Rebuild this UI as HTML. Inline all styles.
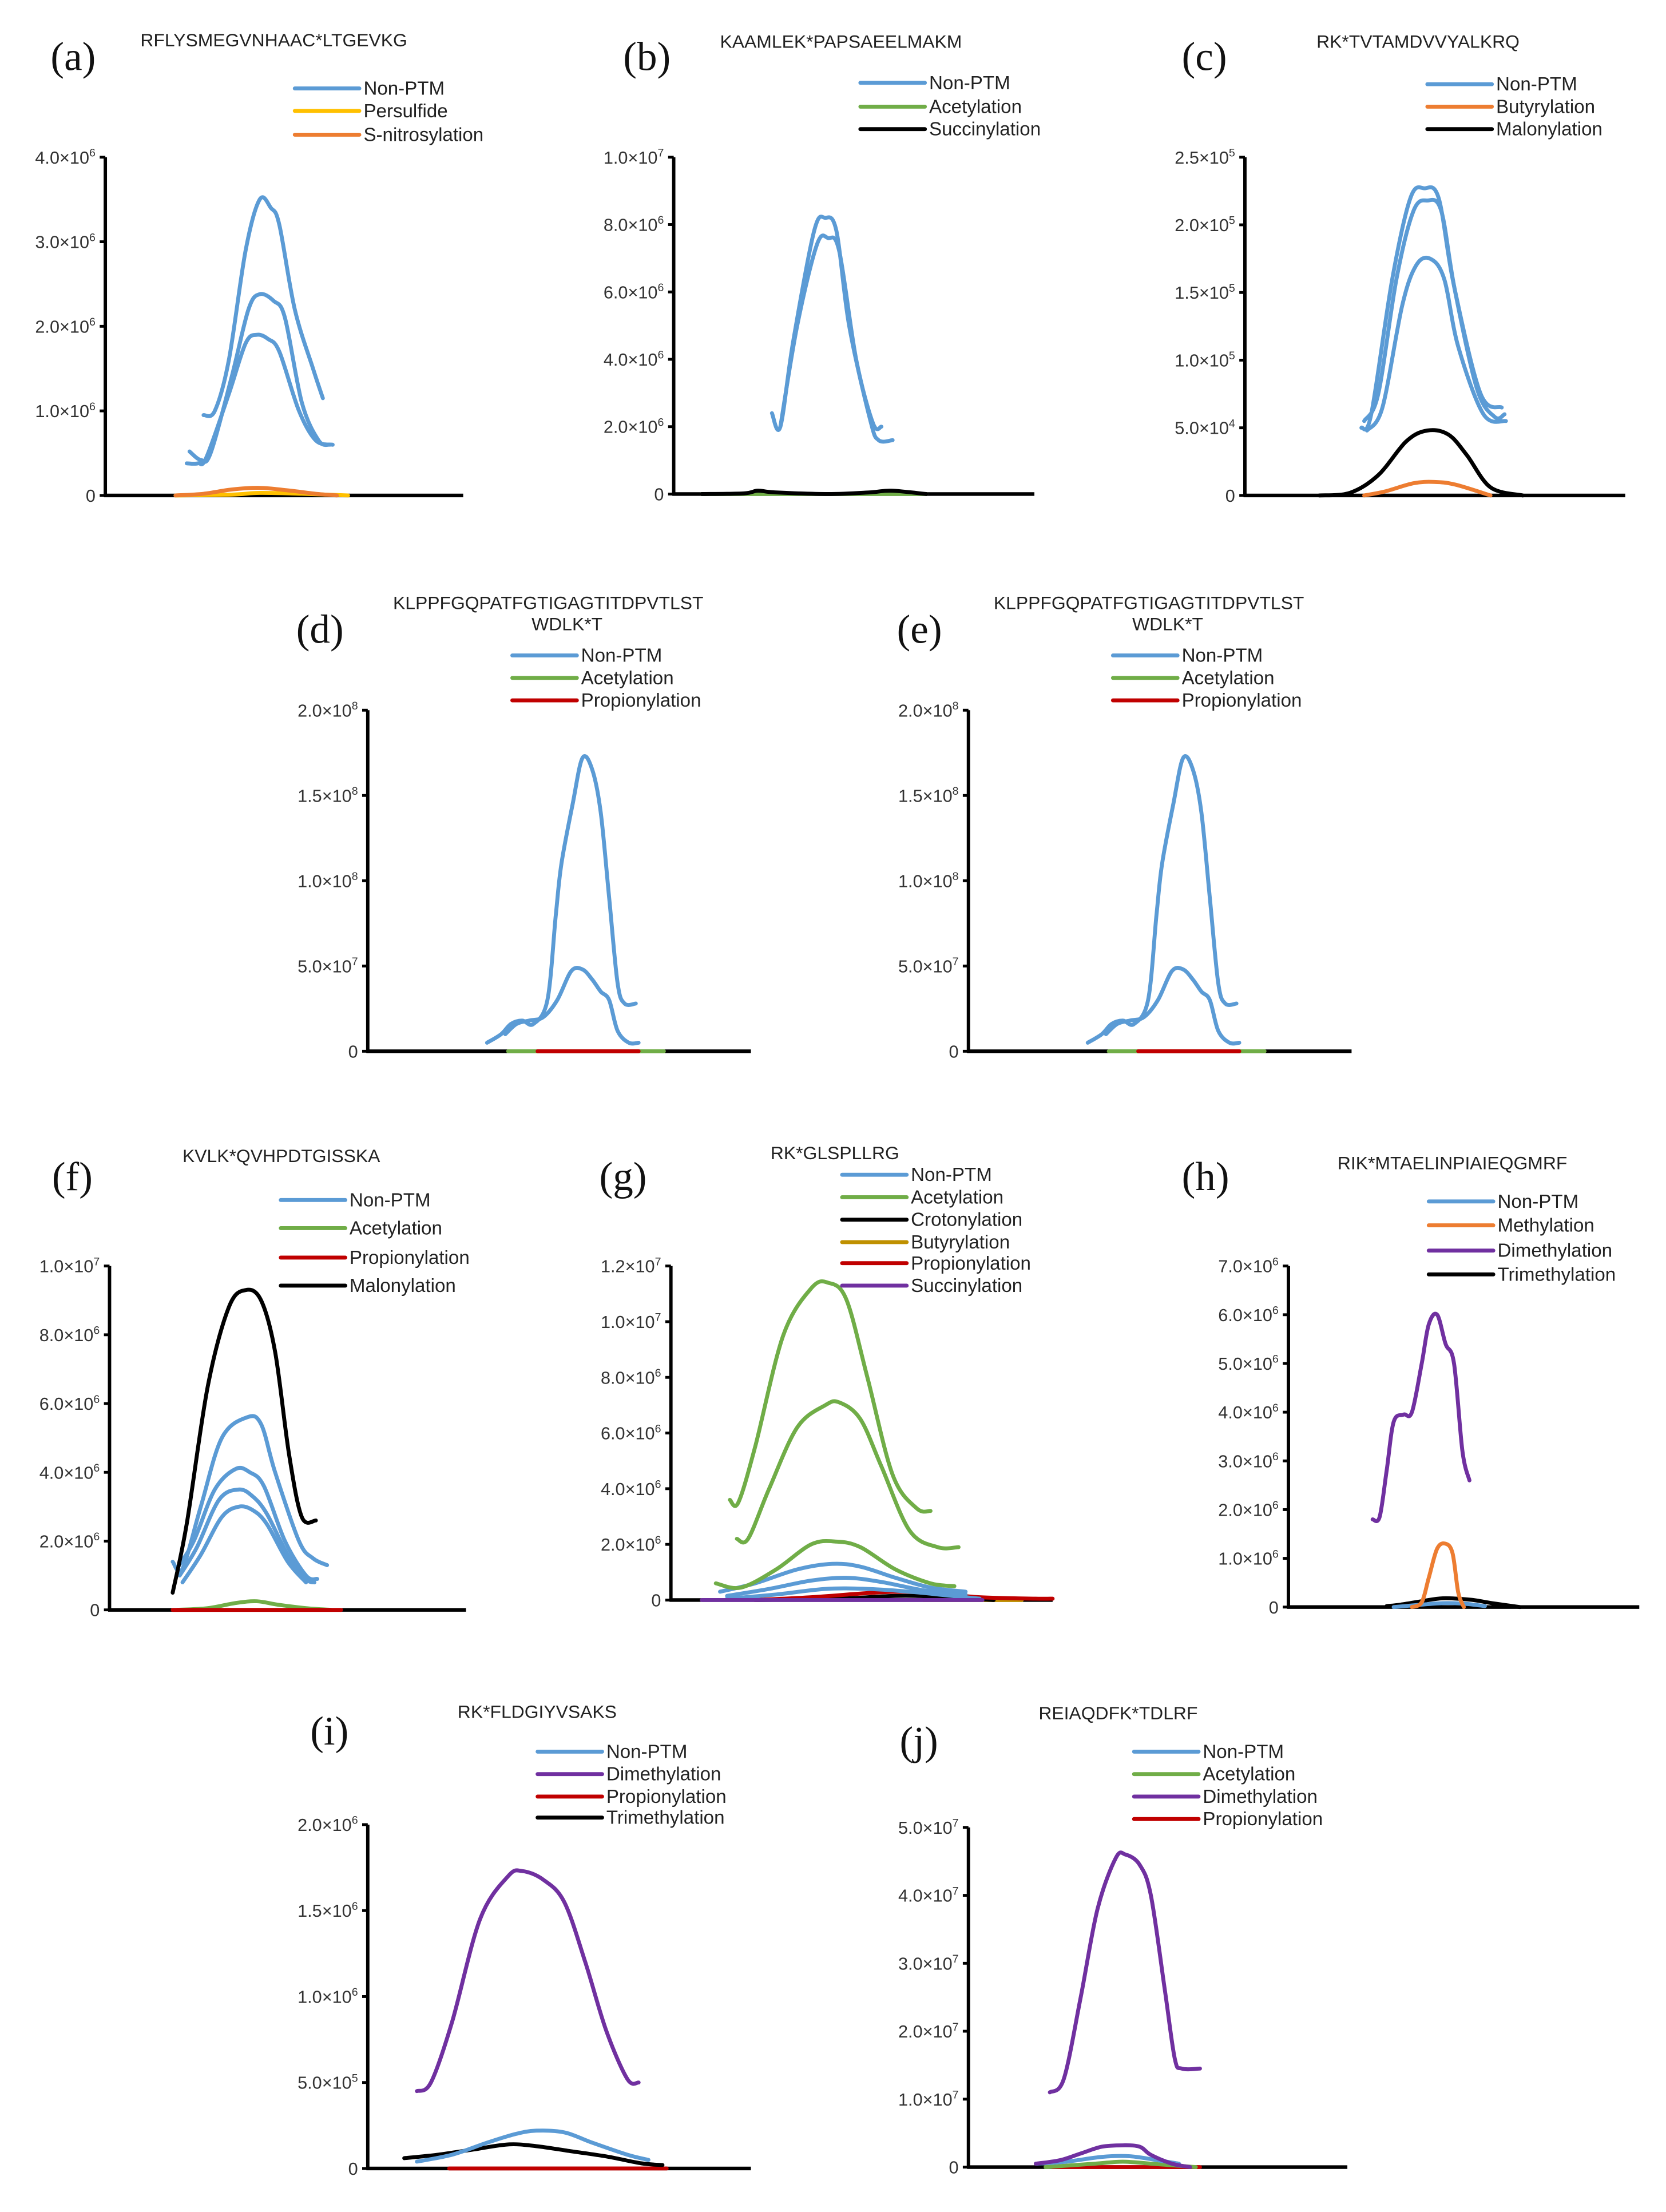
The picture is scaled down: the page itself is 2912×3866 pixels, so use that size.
<!DOCTYPE html>
<html><head><meta charset="utf-8"><title>PTM XIC panels</title>
<style>
html,body{margin:0;padding:0;background:#fff;}
svg{display:block;}
</style></head>
<body>
<svg id="fig" xmlns="http://www.w3.org/2000/svg" width="2912" height="3866" viewBox="0 0 1187 1576"></svg>
<script>
// ---- tick values (in panel units) and exponent labels ----
const aTickVals=[0,1,2,3,4]; const aTickExp=['','6','6','6','6'];
const bTickVals=[0,2,4,6,8,10]; const bTickMant=['0','2.0','4.0','6.0','8.0','1.0']; const bTickExp=['','6','6','6','6','7'];
const cTickVals=[0,0.5,1,1.5,2,2.5]; const cTickMant=['0','5.0','1.0','1.5','2.0','2.5']; const cTickExp=['','4','5','5','5','5'];
const dTickVals=[0,0.5,1,1.5,2]; const dTickMant=['0','5.0','1.0','1.5','2.0']; const dTickExp=['','7','8','8','8'];
const fTickVals=[0,2,4,6,8,10]; const fTickMant=['0','2.0','4.0','6.0','8.0','1.0']; const fTickExp=['','6','6','6','6','7'];
const gTickVals=[0,2,4,6,8,10,12]; const gTickMant=['0','2.0','4.0','6.0','8.0','1.0','1.2']; const gTickExp=['','6','6','6','6','7','7'];
const hTickVals=[0,1,2,3,4,5,6,7]; const hTickExp=['','6','6','6','6','6','6','6'];
const iTickVals=[0,0.5,1,1.5,2]; const iTickMant=['0','5.0','1.0','1.5','2.0']; const iTickExp=['','5','6','6','6'];
const jTickVals=[0,1,2,3,4,5]; const jTickExp=['','7','7','7','7','7'];

// ---- series data: [retention offset, intensity in panel units] ----
const aBlue1=[[70,.95],[78,1.0],[88,1.6],[100,2.9],[110,3.5],[118,3.4],[124,3.2],[135,2.2],[148,1.5],[155,1.15]];
const aBlue2=[[60,.52],[68,.42],[75,.5],[90,1.4],[102,2.2],[110,2.38],[120,2.3],[128,2.1],[140,1.1],[152,.65],[160,.6]];
const aBlue3=[[58,.38],[66,.38],[72,.45],[88,1.2],[100,1.8],[108,1.9],[116,1.85],[124,1.7],[138,1.0],[150,.65],[162,.6]];
const aYellow=[[50,0],[90,.01],[110,.03],[140,.02],[173,0]];
const aOrange=[[50,0],[70,.02],[90,.07],[110,.09],[130,.06],[150,.02],[165,0]];

const bBlue1=[[70,2.4],[76,2.0],[85,4.5],[100,7.8],[108,8.2],[116,7.8],[125,5],[140,2.2],[146,1.6],[156,1.6]];
const bBlue2=[[76,2.0],[88,5.0],[102,7.4],[110,7.6],[118,7.2],[130,4],[142,2.1],[148,2.0]];
const bGreen=[[20,0],[180,0]];
const bBlack=[[20,0],[50,0.02],[60,0.1],[72,0.05],[110,0],[140,0.05],[155,0.1],[180,0]];

const cBlue1=[[83,.5],[90,.6],[105,1.6],[118,2.2],[128,2.27],[138,2.2],[148,1.6],[165,.8],[178,.58],[185,.6]];
const cBlue2=[[85,.55],[95,.75],[108,1.6],[120,2.1],[130,2.18],[140,2.1],[150,1.5],[168,.75],[183,.65]];
const cBlue3=[[87,.48],[98,.65],[112,1.4],[122,1.7],[132,1.75],[142,1.6],[152,1.1],[170,.6],[186,.55]];
const cOrange=[[85,0],[100,.03],[120,.09],[135,.1],[150,.08],[175,0]];
const cBlack=[[53,0],[75,.02],[95,.15],[115,.4],[130,.48],[145,.45],[158,.3],[175,.06],[198,0]];

const dBlue1=[[85,.05],[95,.1],[102,.16],[110,.18],[118,.16],[128,.3],[134,.8],[138,1.1],[146,1.45],[153,1.72],[160,1.65],[166,1.4],[172,.9],[178,.4],[183,.28],[191,.28]];
const dBlue2=[[98,.1],[106,.16],[115,.18],[125,.2],[135,.3],[145,.47],[153,.48],[160,.42],[166,.35],[172,.3],[178,.12],[186,.05],[193,.05]];
const dGreen=[[100,0],[211,0]];
const dRed=[[121,0],[193,0]];

const eBlue1=[[85,.05],[95,.1],[102,.16],[110,.18],[118,.16],[128,.3],[134,.8],[138,1.1],[146,1.45],[153,1.72],[160,1.65],[166,1.4],[172,.9],[178,.4],[183,.28],[191,.28]];
const eBlue2=[[98,.1],[106,.16],[115,.18],[125,.2],[135,.3],[145,.47],[153,.48],[160,.42],[166,.35],[172,.3],[178,.12],[186,.05],[193,.05]];
const eGreen=[[100,0],[211,0]];
const eRed=[[121,0],[193,0]];

const fBlue1=[[45,1.4],[52,1.2],[65,3],[80,5],[98,5.6],[108,5.4],[118,4],[135,2],[145,1.5],[155,1.3]];
const fBlue2=[[48,1.2],[60,2],[75,3.5],[90,4.1],[100,4.0],[110,3.6],[125,2],[140,1.0],[148,0.9]];
const fBlue3=[[50,1.0],[62,1.8],[78,3.2],[92,3.5],[102,3.3],[112,2.8],[127,1.6],[140,.9],[146,.8]];
const fBlue4=[[52,0.8],[65,1.6],[80,2.7],[92,3.0],[102,2.9],[112,2.5],[127,1.4],[140,.8]];
const fGreen=[[48,0],[70,.05],[90,.2],[105,.25],[120,.15],[140,.05],[158,0]];
const fRed=[[45,0],[165,0]];
const fBlack=[[45,.5],[55,2.5],[70,6.5],[85,8.8],[97,9.3],[108,9.0],[118,7.5],[128,4.5],[137,2.7],[147,2.6]];

const gBlue1=[[35,.3],[60,.6],[90,1.1],[115,1.3],[135,1.2],[160,.8],[185,.45],[210,.3]];
const gBlue2=[[40,.15],[70,.4],[100,.7],[125,.8],[150,.65],[180,.35],[210,.2]];
const gBlue3=[[40,.05],[75,.2],[110,.4],[140,.4],[170,.3],[200,.15],[220,.05]];
const gGreen1=[[42,3.6],[48,3.5],[60,5.5],[80,9.5],[100,11.2],[112,11.4],[125,10.8],[140,8],[158,4.5],[175,3.3],[185,3.2]];
const gGreen2=[[47,2.2],[55,2.2],[70,4],[90,6.2],[110,7.0],[120,7.1],[135,6.5],[150,4.8],[170,2.5],[190,1.9],[205,1.9]];
const gGreen3=[[32,0.6],[50,0.45],[75,1.1],[100,2.0],[118,2.1],[135,1.9],[160,1.1],[185,.6],[202,.5]];
const gBlack=[[60,0],[120,.05],[160,.15],[190,.12],[230,0]];
const gOrange=[[180,0],[250,0]];
const gRed=[[60,0],[100,.1],[140,.25],[165,.3],[190,.25],[220,.1],[260,.05],[272,.05]];
const gPurple=[[22,0],[222,0]];

const hBlue=[[75,0],[95,.05],[110,.08],[125,.07],[140,.02]];
const hOrange=[[88,0],[95,.1],[100,.6],[106,1.2],[112,1.3],[117,1.1],[121,.3],[125,0]];
const hPurple=[[60,1.8],[65,1.85],[70,2.8],[75,3.8],[82,3.95],[88,4.0],[95,5.0],[100,5.8],[106,6.0],[112,5.4],[118,5.0],[124,3.2],[129,2.6]];
const hBlack=[[70,.02],[80,.05],[95,.12],[110,.18],[130,.15],[145,.08],[165,0]];

const iBlue=[[35,.04],[60,.08],[85,.15],[105,.2],[120,.22],[140,.21],[160,.15],[185,.08],[200,.05]];
const iPurple=[[35,.45],[45,.5],[60,.85],[80,1.45],[100,1.7],[110,1.73],[125,1.68],[140,1.55],[155,1.2],[170,.8],[185,.52],[193,.5]];
const iRed=[[58,0],[213,0]];
const iBlack=[[26,.06],[50,.08],[75,.11],[100,.14],[120,.13],[145,.1],[170,.07],[195,.03],[210,.02]];

const jBlue=[[48,.05],[70,.08],[95,.15],[115,.16],[135,.1],[150,.05]];
const jGreen=[[55,0],[90,.05],[110,.08],[130,.05],[162,0]];
const jPurple1=[[58,1.1],[68,1.3],[80,2.5],[92,3.8],[105,4.55],[112,4.6],[122,4.45],[130,4.0],[140,2.6],[147,1.6],[152,1.45],[165,1.45]];
const jPurple2=[[48,.05],[65,.1],[80,.2],[95,.3],[110,.32],[122,.3],[130,.18],[145,.05],[158,0]];
const jRed=[[60,0],[165,0]];

// ---- styling ----
const COL={blue:'#5b9bd5',orange:'#ed7d31',yellow:'#ffc000',green:'#70ad47',black:'#000',red:'#c00000',purple:'#7030a0',gold:'#bf9000'};
const NS='http://www.w3.org/2000/svg';
const svg=document.getElementById('fig');
function mk(tag,attrs,parent){const e=document.createElementNS(NS,tag);for(const k in attrs)e.setAttribute(k,attrs[k]);(parent||svg).appendChild(e);return e;}
function smooth(pts){
  if(pts.length<3){return 'M'+pts.map(p=>p[0].toFixed(2)+','+p[1].toFixed(2)).join(' L');}
  let d='M'+pts[0][0].toFixed(2)+','+pts[0][1].toFixed(2);
  for(let i=0;i<pts.length-1;i++){
    const p0=pts[i-1]||pts[i],p1=pts[i],p2=pts[i+1],p3=pts[i+2]||p2;
    const c1=[p1[0]+(p2[0]-p0[0])/6,p1[1]+(p2[1]-p0[1])/6];
    const c2=[p2[0]-(p3[0]-p1[0])/6,p2[1]-(p3[1]-p1[1])/6];
    d+=' C'+c1[0].toFixed(2)+','+c1[1].toFixed(2)+' '+c2[0].toFixed(2)+','+c2[1].toFixed(2)+' '+p2[0].toFixed(2)+','+p2[1].toFixed(2);
  }
  return d;
}

const panels=[
 {id:'a',letter:'(a)',lx:36,ly:50,title:['RFLYSMEGVNHAAC*LTGEVKG'],tx:100,ty:33,ax:75,ay0:353,ay1:112,ar:330,ymax:4,
  ticks:aTickVals,mant:['0','1.0','2.0','3.0','4.0'],exp:aTickExp,legX:210,legY:[63,79,96],
  leg:[['Non-PTM','blue'],['Persulfide','yellow'],['S-nitrosylation','orange']],
  series:[[aYellow,'yellow'],[aOrange,'orange'],[aBlue3,'blue'],[aBlue2,'blue'],[aBlue1,'blue']]},
 {id:'b',letter:'(b)',lx:444,ly:50,title:['KAAMLEK*PAPSAEELMAKM'],tx:513,ty:34,ax:480,ay0:352,ay1:112,ar:737,ymax:10,
  ticks:bTickVals,mant:bTickMant,exp:bTickExp,legX:613,legY:[59,76,92],
  leg:[['Non-PTM','blue'],['Acetylation','green'],['Succinylation','black']],
  series:[[bGreen,'green'],[bBlack,'black'],[bBlue2,'blue'],[bBlue1,'blue']]},
 {id:'c',letter:'(c)',lx:842,ly:50,title:['RK*TVTAMDVVYALKRQ'],tx:938,ty:34,ax:887,ay0:353,ay1:112,ar:1158,ymax:2.5,
  ticks:cTickVals,mant:cTickMant,exp:cTickExp,legX:1017,legY:[60,76,92],
  leg:[['Non-PTM','blue'],['Butyrylation','orange'],['Malonylation','black']],
  series:[[cOrange,'orange'],[cBlack,'black'],[cBlue3,'blue'],[cBlue2,'blue'],[cBlue1,'blue']]},
 {id:'d',letter:'(d)',lx:211,ly:458,title:['KLPPFGQPATFGTIGAGTITDPVTLST','WDLK*T'],tx:280,ty:434,ax:262,ay0:749,ay1:506,ar:535,ymax:2,
  ticks:dTickVals,mant:dTickMant,exp:dTickExp,legX:365,legY:[467,483,499],
  leg:[['Non-PTM','blue'],['Acetylation','green'],['Propionylation','red']],
  series:[[dGreen,'green'],[dRed,'red'],[dBlue2,'blue'],[dBlue1,'blue']]},
 {id:'e',letter:'(e)',lx:639,ly:458,title:['KLPPFGQPATFGTIGAGTITDPVTLST','WDLK*T'],tx:708,ty:434,ax:690,ay0:749,ay1:506,ar:963,ymax:2,
  ticks:dTickVals,mant:dTickMant,exp:dTickExp,legX:793,legY:[467,483,499],
  leg:[['Non-PTM','blue'],['Acetylation','green'],['Propionylation','red']],
  series:[[eGreen,'green'],[eRed,'red'],[eBlue2,'blue'],[eBlue1,'blue']]},
 {id:'f',letter:'(f)',lx:37,ly:848,title:['KVLK*QVHPDTGISSKA'],tx:130,ty:828,ax:78,ay0:1147,ay1:902,ar:332,ymax:10,
  ticks:fTickVals,mant:fTickMant,exp:fTickExp,legX:200,legY:[855,875,896,916],
  leg:[['Non-PTM','blue'],['Acetylation','green'],['Propionylation','red'],['Malonylation','black']],
  series:[[fGreen,'green'],[fRed,'red'],[fBlue4,'blue'],[fBlue3,'blue'],[fBlue2,'blue'],[fBlue1,'blue'],[fBlack,'black']]},
 {id:'g',letter:'(g)',lx:427,ly:848,title:['RK*GLSPLLRG'],tx:549,ty:826,ax:478,ay0:1140,ay1:902,ar:750,ymax:12,
  ticks:gTickVals,mant:gTickMant,exp:gTickExp,legX:600,legY:[837,853,869,885,900,916],
  leg:[['Non-PTM','blue'],['Acetylation','green'],['Crotonylation','black'],['Butyrylation','gold'],['Propionylation','red'],['Succinylation','purple']],
  series:[[gOrange,'gold'],[gBlack,'black'],[gRed,'red'],[gBlue3,'blue'],[gBlue2,'blue'],[gBlue1,'blue'],[gGreen3,'green'],[gGreen2,'green'],[gGreen1,'green'],[gPurple,'purple']]},
 {id:'h',letter:'(h)',lx:842,ly:848,title:['RIK*MTAELINPIAIEQGMRF'],tx:953,ty:833,ax:918,ay0:1145,ay1:902,ar:1168,ymax:7,
  ticks:hTickVals,mant:['0','1.0','2.0','3.0','4.0','5.0','6.0','7.0'],exp:hTickExp,legX:1018,legY:[856,873,891,908],
  leg:[['Non-PTM','blue'],['Methylation','orange'],['Dimethylation','purple'],['Trimethylation','black']],
  series:[[hBlack,'black'],[hBlue,'blue'],[hOrange,'orange'],[hPurple,'purple']]},
 {id:'i',letter:'(i)',lx:221,ly:1243,title:['RK*FLDGIYVSAKS'],tx:326,ty:1224,ax:262,ay0:1545,ay1:1300,ar:535,ymax:2,
  ticks:iTickVals,mant:iTickMant,exp:iTickExp,legX:383,legY:[1248,1264,1280,1295],
  leg:[['Non-PTM','blue'],['Dimethylation','purple'],['Propionylation','red'],['Trimethylation','black']],
  series:[[iRed,'red'],[iBlack,'black'],[iBlue,'blue'],[iPurple,'purple']]},
 {id:'j',letter:'(j)',lx:641,ly:1250,title:['REIAQDFK*TDLRF'],tx:740,ty:1225,ax:690,ay0:1544,ay1:1302,ar:960,ymax:5,
  ticks:jTickVals,mant:['0','1.0','2.0','3.0','4.0','5.0'],exp:jTickExp,legX:808,legY:[1248,1264,1280,1296],
  leg:[['Non-PTM','blue'],['Acetylation','green'],['Dimethylation','purple'],['Propionylation','red']],
  series:[[jRed,'red'],[jGreen,'green'],[jBlue,'blue'],[jPurple2,'purple'],[jPurple1,'purple']]}
];

panels.forEach(p=>{
  const g=mk('g',{});
  
  
  const yS=v=>p.ay0-(v/p.ymax)*(p.ay0-p.ay1);
  const xS=t=>p.ax+t;
  const L=mk('text',{x:p.lx,y:p.ly,'font-family':'Liberation Serif, serif','font-size':29,fill:'#111'},g);
  L.textContent=p.letter;
  
  
  p.title.forEach((t,k)=>{
    const T=mk('text',{x:k===0?p.tx:p.tx+124,y:p.ty+k*15,'font-family':'Liberation Sans, sans-serif','font-size':13,fill:'#222'},g);
    if(k>0){T.setAttribute('text-anchor','middle');}
    T.textContent=t;
    
    
  });
  const ya=mk('line',{x1:p.ax,y1:p.ay1,x2:p.ax,y2:p.ay0+1,stroke:'#000','stroke-width':2.4},g);
  
  
  const xa=mk('line',{x1:p.ax-1,y1:p.ay0,x2:p.ar,y2:p.ay0,stroke:'#000','stroke-width':2.6},g);
  
  
  p.ticks.forEach((v,k)=>{
    const y=yS(v);
    const tk=mk('line',{x1:p.ax-4,y1:y,x2:p.ax,y2:y,stroke:'#000','stroke-width':2},g);
    
    
    const T=mk('text',{x:p.ax-7,y:y+4.5,'text-anchor':'end','font-family':'Liberation Sans, sans-serif','font-size':12.5,fill:'#333'},g);
    
    
    if(p.exp[k]===''){T.textContent=p.mant[k];}
    else{
      const a=mk('tspan',{},T);a.textContent=p.mant[k]+'×10';
      const b=mk('tspan',{'font-size':8,dy:-5},T);b.textContent=p.exp[k];
    }
  });
  p.series.forEach(s=>{
    const pts=s[0].map(q=>[xS(q[0]),yS(q[1])]);
    const P=mk('path',{d:smooth(pts),fill:'none',stroke:COL[s[1]],'stroke-width':2.8,'stroke-linecap':'round','stroke-linejoin':'round'},g);
    
    
  });
  p.leg.forEach((l,k)=>{
    const y=p.legY[k];
    const ln=mk('line',{x1:p.legX,y1:y,x2:p.legX+46,y2:y,stroke:COL[l[1]],'stroke-width':2.8,'stroke-linecap':'round'},g);
    
    
    const T=mk('text',{x:p.legX+49,y:y+4.5,'font-family':'Liberation Sans, sans-serif','font-size':13.5,fill:'#222'},g);
    T.textContent=l[0];
    
    
  });
});
</script>
</body></html>
